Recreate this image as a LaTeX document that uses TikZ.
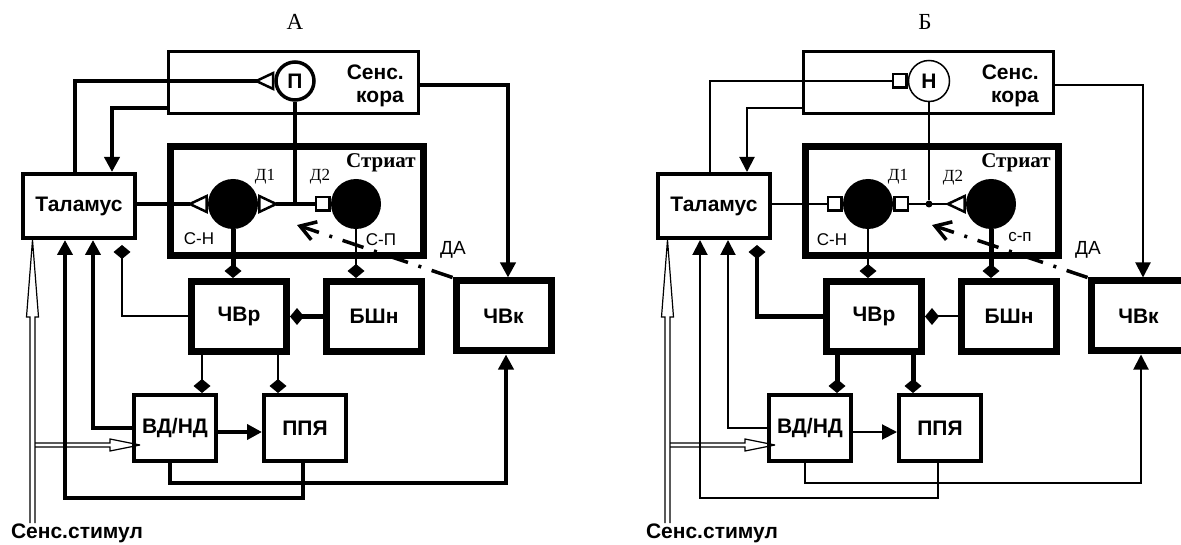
\documentclass[tikz,border=0pt]{standalone}
\usepackage{fontspec}
\setmainfont{Liberation Serif}
\setsansfont{Liberation Sans}
\usetikzlibrary{arrows.meta}
\begin{document}
\begin{tikzpicture}[x=1pt,y=1pt]
\tikzstyle{every node}+=[inner sep=0pt]
\tikzstyle{bf}=[font=\sffamily\bfseries\fontsize{21}{23}\selectfont]
\tikzstyle{hbox}=[bf, draw=black, line width=7pt, minimum width=95pt, minimum height=70pt]
\tikzstyle{mbox}=[bf, draw=black, line width=4pt, minimum width=82pt, minimum height=66pt]
\tikzstyle{sbox}=[draw=black, line width=3.5pt, minimum width=250pt, minimum height=62pt]
\tikzstyle{strbox}=[draw=black, line width=7pt, minimum width=253pt, minimum height=109pt]
\tikzstyle{cell}=[circle, fill=black, minimum size=50pt]
\tikzstyle{ttl}=[font=\rmfamily\fontsize{23}{25}\selectfont]
\tikzstyle{strlbl}=[font=\rmfamily\bfseries\fontsize{21}{23}\selectfont]
\tikzstyle{dlbl}=[font=\rmfamily\fontsize{17}{19}\selectfont]
\tikzstyle{lbl}=[font=\sffamily\fontsize{17}{19}\selectfont]
\tikzstyle{dalbl}=[font=\sffamily\fontsize{19}{21}\selectfont]
\tikzstyle{thk}=[black, line width=4.5pt]
\tikzstyle{thn}=[black, line width=2pt]
\tikzstyle{stim}=[black, line width=1.2pt]
\tikzstyle{arr}=[-{Triangle[length=15pt,width=15pt]}]
\tikzstyle{dmd}=[-{Diamond[length=14pt,width=17pt]}]
\tikzstyle{da}=[black, line width=3.5pt, dash pattern=on 22pt off 11pt on 3pt off 11pt, -{Straight Barb[length=15pt,width=19pt]}]
\tikzset{syntri/.tip={Triangle[open,reversed,length=21pt,width=19pt,line width=2.5pt]},
  synsq/.tip={Square[open,length=16pt,line width=2.5pt]}}
\useasboundingbox (0,0) rectangle (1181,-545);
\node[ttl] (ttlA) at (295,-22) {А};
\node[sbox] (senA) at (293.5,-82.5) {};
\node[bf, anchor=east, align=right] (senTA) at (404,-86) {Сенс.\\кора};
\node[bf, circle, draw=black, line width=3.5pt, minimum size=38pt] (pA) at (295,-81) {П};
\node[strbox] (strA) at (297,-201) {};
\node[strlbl] (strTA) at (381,-163) {Стриат};
\node[cell] (d1A) at (233,-204) {};
\node[cell] (d2A) at (356,-204) {};
\node[dlbl] (d1lA) at (265,-177) {Д1};
\node[dlbl] (d2lA) at (320,-177) {Д2};
\node[lbl] (snA) at (199,-239) {С-Н};
\node[lbl] (spA) at (381,-240) {С-П};
\node[dalbl] (daA) at (453,-250) {ДА};
\node[mbox, minimum width=112pt, minimum height=64pt] (talA) at (79,-206) {Таламус};
\node[hbox] (chvrA) at (239,-316.5) {ЧВр};
\node[hbox] (bshA) at (374,-316.5) {БШн};
\node[hbox] (chvkA) at (503.5,-316) {ЧВк};
\node[mbox] (vdA) at (175,-428) {ВД/НД};
\node[mbox] (ppA) at (305,-428) {ППЯ};
\node[bf] (stmA) at (77,-533) {Сенс.стимул};
\coordinate (daEndA) at (297,-225);
\coordinate (stTipA) at ([xshift=-46.5pt]talA.south);
\coordinate (stTip2A) at ([xshift=8pt,yshift=-17pt]vdA.west);
\draw[stim] (stTipA) -- ++(-6,-77) -- ++(3.5,0) -- ++(0,-206) ++(5,0) -- ++(0,206) -- ++(3.5,0) -- (stTipA);
\draw[stim] (stTip2A) -- ++(-30,6) -- ++(0,-4) -- ++(-75,0) ++(0,-4) -- ++(75,0) -- ++(0,-4) -- (stTip2A);
\draw[thk, arr] ([yshift=-2.5pt]senA.east) -| ([xshift=4.5pt]chvkA.north);
\draw[thk, syntri-] (pA.west) -| ([xshift=-4pt]talA.north);
\draw[thk, arr] ([yshift=-25.5pt]senA.west) -| ([xshift=33pt]talA.north);
\draw[thk, -syntri] (talA.east |- d1A.west) -- (d1A.west);
\draw[black, line width=3.5pt, syntri-synsq] (d1A.east) -- (d2A.west);
\draw[black, line width=3.5pt] (pA.south) -- (pA.south |- d2A.west);
\draw[thk, line width=5pt, dmd] (d1A.south) -- (d1A.south |- chvrA.north);
\draw[thn, dmd] (d2A.south) -- (d2A.south |- bshA.north);
\draw[thk, line width=5pt, dmd] (bshA.west) -- (chvrA.east);
\draw[thn, dmd] (chvrA.west) -| ([xshift=43pt,yshift=-5pt]talA.south);
\draw[thn, dmd] ([xshift=-37pt]chvrA.south) -- ([xshift=-37pt]chvrA.south |- vdA.north);
\draw[thn, dmd] ([xshift=39pt]chvrA.south) -- ([xshift=39pt]chvrA.south |- ppA.north);
\draw[thk, arr] ([yshift=-4pt]vdA.east) -- ([yshift=-4pt]ppA.west);
\draw[thk, arr] (vdA.west) -| ([xshift=14pt]talA.south);
\draw[thk, arr] ([xshift=-2pt]ppA.south) -- ++(0,-35) -| ([xshift=-14pt]talA.south);
\draw[thk, arr] ([xshift=-5pt]vdA.south) -- ++(0,-20) -| ([xshift=2.5pt]chvkA.south);
\draw[da] (chvkA.north west) -- (daEndA);
\begin{scope}[xshift=635pt]
\node[ttl] (ttlB) at (290,-22) {Б};
\node[sbox] (senB) at (293.5,-82.5) {};
\node[bf, anchor=east, align=right] (senTB) at (404,-86) {Сенс.\\кора};
\node[bf, circle, draw=black, line width=1.5pt, minimum size=41pt] (pB) at (294,-81) {Н};
\node[strbox] (strB) at (297,-201) {};
\node[strlbl] (strTB) at (381,-163) {Стриат};
\node[cell] (d1B) at (233,-204) {};
\node[cell] (d2B) at (356,-204) {};
\node[circle, fill=black, minimum size=7pt] (jB) at (pB.south |- d2B.west) {};
\node[dlbl] (d1lB) at (263,-177) {Д1};
\node[dlbl] (d2lB) at (318,-178) {Д2};
\node[lbl] (snB) at (197,-240) {С-Н};
\node[lbl] (spB) at (385,-237) {с-п};
\node[dalbl] (daB) at (453,-250) {ДА};
\node[mbox, minimum width=112pt, minimum height=64pt] (talB) at (79,-206) {Таламус};
\node[hbox] (chvrB) at (239,-316.5) {ЧВр};
\node[hbox] (bshB) at (374,-316.5) {БШн};
\node[hbox] (chvkB) at (503.5,-316) {ЧВк};
\node[mbox] (vdB) at (175,-428) {ВД/НД};
\node[mbox] (ppB) at (305,-428) {ППЯ};
\node[bf] (stmB) at (77,-533) {Сенс.стимул};
\coordinate (daEndB) at (297,-225);
\coordinate (stTipB) at ([xshift=-46.5pt]talB.south);
\coordinate (stTip2B) at ([xshift=8pt,yshift=-17pt]vdB.west);
\draw[stim] (stTipB) -- ++(-6,-77) -- ++(3.5,0) -- ++(0,-206) ++(5,0) -- ++(0,206) -- ++(3.5,0) -- (stTipB);
\draw[stim] (stTip2B) -- ++(-30,6) -- ++(0,-4) -- ++(-75,0) ++(0,-4) -- ++(75,0) -- ++(0,-4) -- (stTip2B);
\draw[thn, arr] ([yshift=-2.5pt]senB.east) -| ([xshift=4.5pt]chvkB.north);
\draw[thn, synsq-] (pB.west) -| ([xshift=-4pt]talB.north);
\draw[thn, arr] ([yshift=-25.5pt]senB.west) -| ([xshift=33pt]talB.north);
\draw[thn, -synsq] (talB.east |- d1B.west) -- (d1B.west);
\draw[thn, synsq-syntri] (d1B.east) -- (d2B.west);
\draw[thn] (pB.south) -- (jB);
\draw[thn, dmd] (d1B.south) -- (d1B.south |- chvrB.north);
\draw[thk, line width=5pt, dmd] (d2B.south) -- (d2B.south |- bshB.north);
\draw[thn, dmd] (bshB.west) -- (chvrB.east);
\draw[thk, dmd] (chvrB.west) -| ([xshift=43pt,yshift=-5pt]talB.south);
\draw[thk, line width=5pt, dmd] ([xshift=-37pt]chvrB.south) -- ([xshift=-37pt]chvrB.south |- vdB.north);
\draw[thk, line width=5pt, dmd] ([xshift=39pt]chvrB.south) -- ([xshift=39pt]chvrB.south |- ppB.north);
\draw[thn, arr] ([yshift=-4pt]vdB.east) -- ([yshift=-4pt]ppB.west);
\draw[thn, arr] (vdB.west) -| ([xshift=14pt]talB.south);
\draw[thn, arr] ([xshift=-2pt]ppB.south) -- ++(0,-35) -| ([xshift=-14pt]talB.south);
\draw[thn, arr] ([xshift=-5pt]vdB.south) -- ++(0,-20) -| ([xshift=2.5pt]chvkB.south);
\draw[da] (chvkB.north west) -- (daEndB);
\end{scope}
\end{tikzpicture}
\end{document}
